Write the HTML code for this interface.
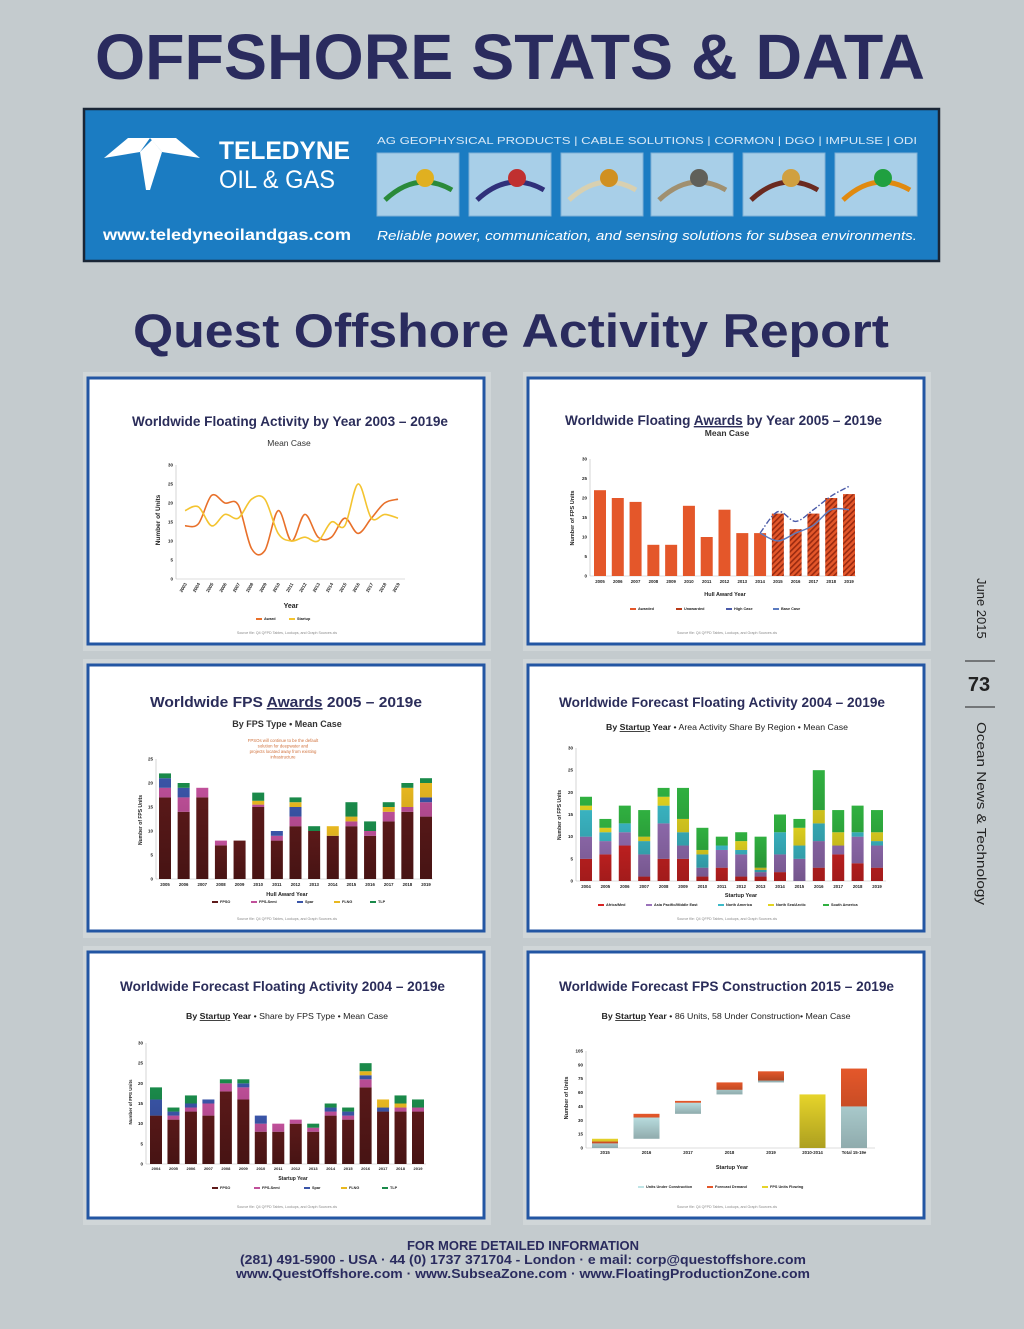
<!DOCTYPE html>
<html><head><meta charset="utf-8">
<style>
html,body{margin:0;padding:0;background:#c4cbce;}
svg{display:block;font-family:"Liberation Sans",sans-serif;}
</style></head>
<body>
<svg id="page" width="1024" height="1329" viewBox="0 0 1024 1329" xmlns="http://www.w3.org/2000/svg">
<defs>
<pattern id="hatch" patternUnits="userSpaceOnUse" width="4" height="4" patternTransform="rotate(45)">
<rect width="4" height="4" fill="#e4572a"/><rect width="1.6" height="4" fill="#9a2a10"/>
</pattern>
<linearGradient id="barShade" x1="0" y1="0" x2="0" y2="1"><stop offset="0" stop-color="#000" stop-opacity="0"/><stop offset="1" stop-color="#000" stop-opacity="0.25"/></linearGradient>
</defs>
<rect x="0" y="0" width="1024" height="1329" fill="#c4cbce"/>
<text x="510" y="79" text-anchor="middle" font-size="64" font-weight="bold" fill="#2a2b5e" textLength="830" lengthAdjust="spacingAndGlyphs">OFFSHORE STATS &amp; DATA</text>

<g>
<rect x="84" y="109" width="855" height="152" fill="#1b7cc2" stroke="#1a2636" stroke-width="2.5"/>
<g fill="#fff">
<polygon points="104,158 128,138 150,138 140,152"/>
<polygon points="150,138 176,138 200,158 162,152"/>
<polygon points="140,152 152,140 162,152 150,190 146,190"/>
</g>
<text x="219" y="159" font-size="25" font-weight="bold" fill="#fff" textLength="131" lengthAdjust="spacingAndGlyphs">TELEDYNE</text>
<text x="219" y="188" font-size="25" fill="#fff" textLength="116" lengthAdjust="spacingAndGlyphs">OIL &amp; GAS</text>
<text x="103" y="240" font-size="16" font-weight="bold" fill="#fff" textLength="248" lengthAdjust="spacingAndGlyphs">www.teledyneoilandgas.com</text>
<text x="377" y="144" font-size="10" fill="#d8e8f6" textLength="540" lengthAdjust="spacingAndGlyphs">AG GEOPHYSICAL PRODUCTS   |   CABLE SOLUTIONS   |   CORMON   |   DGO   |   IMPULSE   |   ODI</text>
<g id="prodthumbs"></g>
<text x="377" y="240" font-size="13" font-style="italic" fill="#fff" textLength="540" lengthAdjust="spacingAndGlyphs">Reliable power, communication, and sensing solutions for subsea environments.</text>
</g>

<text x="511" y="347" text-anchor="middle" font-size="47" font-weight="bold" fill="#2a2b5e" textLength="756" lengthAdjust="spacingAndGlyphs">Quest Offshore Activity Report</text>

<g>
<text transform="translate(977,578) rotate(90)" font-size="13" fill="#222">June 2015</text>
<line x1="965" y1="661" x2="995" y2="661" stroke="#222" stroke-width="1"/>
<text x="979" y="691" text-anchor="middle" font-size="20" font-weight="bold" fill="#222">73</text>
<line x1="965" y1="707" x2="995" y2="707" stroke="#222" stroke-width="1"/>
<text transform="translate(977,722) rotate(90)" font-size="13" fill="#222" textLength="183" lengthAdjust="spacingAndGlyphs">Ocean News &amp; Technology</text>
</g>

<g id="charts"></g>

<g font-weight="bold" fill="#2a2b5e" font-size="13" text-anchor="middle">
<text x="523" y="1250">FOR MORE DETAILED INFORMATION</text>
<text x="523" y="1264" textLength="566" lengthAdjust="spacingAndGlyphs">(281) 491-5900 - USA  ·  44 (0) 1737 371704 - London  ·  e mail: corp@questoffshore.com</text>
<text x="523" y="1278" textLength="574" lengthAdjust="spacingAndGlyphs">www.QuestOffshore.com  ·  www.SubseaZone.com  ·  www.FloatingProductionZone.com</text>
</g>
</svg>

<script>
// ---------- chart data ----------
const c1Years = ['2003','2004','2005','2006','2007','2008','2009','2010','2011','2012','2013','2014','2015','2016','2017','2018','2019'];
const c1Award = [14,14.5,22,20,19.5,8,7.5,18,10,17,11,11,16,12,16,20,21];
const c1Startup = [18,19,14,17,16,21,21,12,10,11,10,15,14,25,16,17,16];
const c1Ticks = [0,5,10,15,20,25,30];

const c2Years = ['2005','2006','2007','2008','2009','2010','2011','2012','2013','2014','2015','2016','2017','2018','2019'];
const c2Awards = [22,20,19,8,8,18,10,17,11,11,16,12,16,20,21];
const c2Unawarded = [false,false,false,false,false,false,false,false,false,false,true,true,true,true,true];
const c2High = [null,null,null,null,null,null,null,null,null,11,16.5,14,17,20.5,23];
const c2Base = [null,null,null,null,null,null,null,null,null,11,9,11,13,17,17];
const c2Ticks = [0,5,10,15,20,25,30];

const c3Years = ['2005','2006','2007','2008','2009','2010','2011','2012','2013','2014','2015','2016','2017','2018','2019'];
const c3FPSO = [17,14,17,7,8,15,8,11,10,9,11,9,12,14,13];
const c3Semi = [2,3,2,1,0,0.5,1,2,0,0,1,1,2,1,3];
const c3Spar = [2,2,0,0,0,0,1,2,0,0,0,0,0,0,1];
const c3FLNG = [0,0,0,0,0,0.8,0,1,0,2,1,0,1,4,3];
const c3TLP = [1,1,0,0,0,1.7,0,1,1,0,3,2,1,1,1];
const c3Ticks = [0,5,10,15,20,25];

const c4Years = ['2004','2005','2006','2007','2008','2009','2010','2011','2012','2013','2014','2015','2016','2017','2018','2019'];
const c4Africa = [5,6,8,1,5,5,1,3,1,1,2,0,3,6,4,3];
const c4AsiaPac = [5,3,3,5,8,3,2,4,5,1,4,5,6,2,6,5];
const c4NorthAm = [6,2,2,3,4,3,3,1,1,0.5,5,3,4,0,1,1];
const c4NorthSea = [1,1,0,1,2,3,1,0,2,0.5,0,4,3,3,0,2];
const c4SouthAm = [2,2,4,6,2,7,5,2,2,7,4,2,9,5,6,5];
const c4Ticks = [0,5,10,15,20,25,30];

const c5Years = ['2004','2005','2006','2007','2008','2009','2010','2011','2012','2013','2014','2015','2016','2017','2018','2019'];
const c5FPSO = [12,11,13,12,18,16,8,8,10,8,12,11,19,13,13,13];
const c5Semi = [0,1,1,3,2,3,2,2,1,1,1,1,2,0,1,1];
const c5Spar = [4,1,1,1,0,1,2,0,0,0,1,1,1,1,0,0];
const c5FLNG = [0,0,0,0,0,0,0,0,0,0,0,0,1,2,1,0];
const c5TLP = [3,1,2,0,1,1,0,0,0,1,1,1,2,0,2,2];
const c5Ticks = [0,5,10,15,20,25,30];

const c6Cats = ['2015','2016','2017','2018','2019','2010-2014','Total 15-19e'];
const c6Base = [0,10,37,58,71,0,0];
const c6UnderConst = [5,23,12,5,2,0,45];
const c6Forecast = [2,4,2,8,10,0,41];
const c6Flowing = [3,0,0,0,0,58,0];
const c6Ticks = [0,15,30,45,60,75,90,105];

// ---------- helpers ----------
const NS = 'http://www.w3.org/2000/svg';
const root = document.getElementById('charts');
function mk(tag, attrs, parent, name, inter) {
  const e = document.createElementNS(NS, tag);
  for (const k in attrs) e.setAttribute(k, attrs[k]);
  
  
  parent.appendChild(e);
  return e;
}
function txt(parent, x, y, s, size, opts, name) {
  const a = Object.assign({x: x, y: y, 'font-size': size, fill: '#222', 'text-anchor': 'middle'}, opts || {});
  const t = mk('text', a, parent, name, false);
  t.textContent = s;
  return t;
}
function xAxis(first, last, n) { return i => first + i * (last - first) / (n - 1); }
function yAxis(y0, yTop, max) { return v => y0 - v * (y0 - yTop) / max; }

function panel(x, y, name) {
  const g = mk('g', {}, root, name, false);
  mk('rect', {x: x - 5, y: y - 6, width: 408, height: 279, fill: '#d0d6d8'}, g, 'panel-shadow', false);
  mk('rect', {x: x, y: y, width: 396, height: 266, fill: '#fff', stroke: '#2356a3', 'stroke-width': 3}, g, 'panel-frame', false);
  return g;
}
function title(g, x1, x2, y, s, size, name) {
  const t = txt(g, (x1 + x2) / 2, y, s, size, {'font-weight': 'bold', fill: '#2b2d5a', textLength: x2 - x1, lengthAdjust: 'spacingAndGlyphs'}, name);
  return t;
}
function yTicks(g, ticks, y, xLeft) {
  ticks.forEach(v => {
    txt(g, xLeft - 3, y(v) + 1.5, String(v), 4.5, {'font-weight': 'bold', 'text-anchor': 'end'}, 'y-tick-label');
  });
}
function axes(g, xL, xR, y0, yTop) {
  mk('line', {x1: xL, y1: yTop, x2: xL, y2: y0, stroke: '#bbb', 'stroke-width': 0.6}, g, 'y-axis-line', false);
  mk('line', {x1: xL, y1: y0, x2: xR, y2: y0, stroke: '#bbb', 'stroke-width': 0.6}, g, 'x-axis-line', false);
}
function source(g, cx, y) {
  txt(g, cx, y, 'Source file: Q4 QFPD Tables, Lookups, and Graph Sources.xls', 3.6, {fill: '#888'}, 'source-note');
}
function legend(g, items, y) {
  items.forEach(it => {
    mk('rect', {x: it.x, y: y - 2, width: 6, height: 2, fill: it.c}, g, 'legend-swatch', false);
    txt(g, it.x + 8, y, it.t, 3.8, {'font-weight': 'bold', 'text-anchor': 'start'}, 'legend-entry');
  });
}
function smoothPath(pts) {
  let d = 'M' + pts[0][0] + ',' + pts[0][1];
  for (let i = 0; i < pts.length - 1; i++) {
    const p0 = pts[Math.max(0, i - 1)], p1 = pts[i], p2 = pts[i + 1], p3 = pts[Math.min(pts.length - 1, i + 2)];
    const c1x = p1[0] + (p2[0] - p0[0]) / 6, c1y = p1[1] + (p2[1] - p0[1]) / 6;
    const c2x = p2[0] - (p3[0] - p1[0]) / 6, c2y = p2[1] - (p3[1] - p1[1]) / 6;
    d += ' C' + c1x + ',' + c1y + ' ' + c2x + ',' + c2y + ' ' + p2[0] + ',' + p2[1];
  }
  return d;
}
function stacked(g, xf, y, seriesList, colors, bw, names) {
  const n = seriesList[0].length;
  for (let i = 0; i < n; i++) {
    let cum = 0;
    seriesList.forEach((s, k) => {
      const v = s[i];
      if (v > 0) {
        mk('rect', {x: xf(i) - bw / 2, y: y(cum + v), width: bw, height: y(cum) - y(cum + v), fill: colors[k]}, g, 'bar-' + names[k] + '-' + i, false);
      }
      cum += v;
    });
    mk('rect', {x: xf(i) - bw / 2, y: y(cum), width: bw, height: y(0) - y(cum), fill: 'url(#barShade)'}, g, 'bar-shade', false);
  }
}

// ---------- product thumbnails ----------
(function () {
  const tg = document.getElementById('prodthumbs');
  const xs = [377, 469, 561, 651, 743, 835];
  const cols = [['#2a8a3a', '#e0b020'], ['#30307a', '#c03030'], ['#d8d0b0', '#d09020'], ['#a09070', '#60605a'], ['#6a2a20', '#d0a040'], ['#e08a10', '#20a040']];
  xs.forEach((x, i) => {
    mk('rect', {x: x, y: 153, width: 82, height: 63, fill: '#a8cfe8', stroke: '#7fb0d6', 'stroke-width': 1}, tg, 'product-photo', false);
    mk('path', {d: 'M' + (x + 8) + ',' + 200 + ' Q' + (x + 40) + ',170 ' + (x + 75) + ',190', stroke: cols[i][0], 'stroke-width': 5, fill: 'none'}, tg, 'product-cable', false);
    mk('circle', {cx: x + 48, cy: 178, r: 9, fill: cols[i][1]}, tg, 'product-connector', false);
  });
})();

// ---------- Chart 1 ----------
(function () {
  const g = panel(88, 378, 'chart-floating-activity-by-year');
  title(g, 132, 448, 426, 'Worldwide Floating Activity by Year 2003 – 2019e', 14, 'chart1-title');
  txt(g, 289, 446, 'Mean Case', 8.5, {fill: '#333'}, 'chart1-subtitle');
  const xf = xAxis(185, 398, c1Years.length), y = yAxis(579, 465, 30);
  axes(g, 176, 405, 579, 465);
  yTicks(g, c1Ticks, y, 176);
  c1Years.forEach((s, i) => {
    txt(g, 0, 0, s, 4.5, {'font-weight': 'bold', 'text-anchor': 'end', transform: 'translate(' + (xf(i) + 2) + ',584) rotate(-60)'}, 'x-tick-label');
  });
  txt(g, 162, 522, 'Number of Units', 6.5, {'font-weight': 'bold', transform: 'rotate(-90 160 522)'}, 'y-axis-title');
  txt(g, 291, 608, 'Year', 7, {'font-weight': 'bold'}, 'x-axis-title');
  mk('path', {d: smoothPath(c1Award.map((v, i) => [xf(i), y(v)])), stroke: '#e8702a', 'stroke-width': 1.6, fill: 'none'}, g, 'award-line', false);
  mk('path', {d: smoothPath(c1Startup.map((v, i) => [xf(i), y(v)])), stroke: '#f4c430', 'stroke-width': 1.6, fill: 'none'}, g, 'startup-line', false);
  legend(g, [{x: 256, t: 'Award', c: '#e8702a'}, {x: 289, t: 'Startup', c: '#f4c430'}], 620);
  source(g, 287, 634);
})();

// ---------- Chart 2 ----------
(function () {
  const g = panel(528, 378, 'chart-floating-awards-by-year');
  const t = title(g, 565, 882, 425, '', 14, 'chart2-title');
  t.innerHTML = 'Worldwide Floating <tspan text-decoration="underline">Awards</tspan> by Year 2005 – 2019e';
  txt(g, 727, 436, 'Mean Case', 8.5, {'font-weight': 'bold', fill: '#333'}, 'chart2-subtitle');
  const xf = xAxis(600, 849, c2Years.length), y = yAxis(576, 459, 30);
  axes(g, 590, 856, 576, 459);
  yTicks(g, c2Ticks, y, 590);
  const bw = 12;
  c2Awards.forEach((v, i) => {
    mk('rect', {x: xf(i) - bw / 2, y: y(v), width: bw, height: y(0) - y(v), fill: c2Unawarded[i] ? 'url(#hatch)' : '#e4572a'}, g, 'award-bar-' + c2Years[i], false);
    txt(g, xf(i), 583, c2Years[i], 4.3, {'font-weight': 'bold'}, 'x-tick-label');
  });
  const hp = [], bp = [];
  c2High.forEach((v, i) => { if (v !== null) hp.push([xf(i), y(v)]); });
  c2Base.forEach((v, i) => { if (v !== null) bp.push([xf(i), y(v)]); });
  mk('path', {d: smoothPath(hp), stroke: '#4a5aa8', 'stroke-width': 1.4, 'stroke-dasharray': '6,2,1.5,2', fill: 'none'}, g, 'high-case-line', false);
  mk('path', {d: smoothPath(bp), stroke: '#5b7bc0', 'stroke-width': 1.4, fill: 'none'}, g, 'base-case-line', false);
  txt(g, 574, 518, 'Number of FPS Units', 5.5, {'font-weight': 'bold', transform: 'rotate(-90 574 518)'}, 'y-axis-title');
  txt(g, 725, 596, 'Hull Award Year', 5.5, {'font-weight': 'bold'}, 'x-axis-title');
  legend(g, [{x: 630, t: 'Awarded', c: '#e4572a'}, {x: 676, t: 'Unawarded', c: '#b83a18'}, {x: 726, t: 'High Case', c: '#4a5aa8'}, {x: 773, t: 'Base Case', c: '#5b7bc0'}], 610);
  source(g, 727, 634);
})();

// ---------- Chart 3 ----------
(function () {
  const g = panel(88, 665, 'chart-fps-awards-by-type');
  const t = title(g, 150, 422, 707, '', 15, 'chart3-title');
  t.innerHTML = 'Worldwide FPS <tspan text-decoration="underline">Awards</tspan> 2005 – 2019e';
  txt(g, 287, 727, 'By FPS Type • Mean Case', 9, {'font-weight': 'bold', fill: '#333'}, 'chart3-subtitle');
  const note = ['FPSOs will continue to be the default', 'solution for deepwater and', 'projects located away from existing', 'infrastructure'];
  note.forEach((s, i) => txt(g, 283, 742 + i * 5.5, s, 4.3, {fill: '#d0703a'}, 'annotation-note'));
  const xf = xAxis(165, 426, c3Years.length), y = yAxis(879, 759, 25);
  axes(g, 156, 433, 879, 759);
  yTicks(g, c3Ticks, y, 156);
  stacked(g, xf, y, [c3FPSO, c3Semi, c3Spar, c3FLNG, c3TLP], ['#5e1a1a', '#c0509a', '#3a55a8', '#e8b820', '#1a8a4a'], 12, ['fpso', 'semi', 'spar', 'flng', 'tlp']);
  c3Years.forEach((s, i) => txt(g, xf(i), 886, s, 4.3, {'font-weight': 'bold'}, 'x-tick-label'));
  txt(g, 142, 820, 'Number of FPS Units', 5, {'font-weight': 'bold', transform: 'rotate(-90 142 820)'}, 'y-axis-title');
  txt(g, 287, 896, 'Hull Award Year', 5.5, {'font-weight': 'bold'}, 'x-axis-title');
  legend(g, [{x: 212, t: 'FPSO', c: '#5e1a1a'}, {x: 251, t: 'FPS-Semi', c: '#c0509a'}, {x: 297, t: 'Spar', c: '#3a55a8'}, {x: 334, t: 'FLNG', c: '#e8b820'}, {x: 370, t: 'TLP', c: '#1a8a4a'}], 903);
  source(g, 287, 920);
})();

// ---------- Chart 4 ----------
(function () {
  const g = panel(528, 665, 'chart-activity-by-region');
  title(g, 559, 885, 707, 'Worldwide Forecast Floating Activity 2004 – 2019e', 14, 'chart4-title');
  const st = txt(g, 727, 730, '', 8.5, {'font-weight': 'bold', fill: '#222', textLength: 242, lengthAdjust: 'spacingAndGlyphs'}, 'chart4-subtitle');
  st.innerHTML = 'By <tspan text-decoration="underline">Startup</tspan> Year <tspan font-weight="normal">• Area Activity Share By Region • Mean Case</tspan>';
  const xf = xAxis(586, 877, c4Years.length), y = yAxis(881, 748, 30);
  axes(g, 576, 886, 881, 748);
  yTicks(g, c4Ticks, y, 576);
  stacked(g, xf, y, [c4Africa, c4AsiaPac, c4NorthAm, c4NorthSea, c4SouthAm], ['#d82424', '#9a72ba', '#3cbac8', '#e2d420', '#30b040'], 12, ['africa', 'asiapac', 'northam', 'northsea', 'southam']);
  c4Years.forEach((s, i) => txt(g, xf(i), 888, s, 4.3, {'font-weight': 'bold'}, 'x-tick-label'));
  txt(g, 561, 815, 'Number of FPS Units', 5, {'font-weight': 'bold', transform: 'rotate(-90 561 815)'}, 'y-axis-title');
  txt(g, 741, 897, 'Startup Year', 5.5, {'font-weight': 'bold'}, 'x-axis-title');
  legend(g, [{x: 598, t: 'Africa/Med', c: '#d82424'}, {x: 646, t: 'Asia Pacific/Middle East', c: '#9a72ba'}, {x: 718, t: 'North America', c: '#3cbac8'}, {x: 768, t: 'North Sea/Arctic', c: '#e2d420'}, {x: 823, t: 'South America', c: '#30b040'}], 906);
  source(g, 727, 920);
})();

// ---------- Chart 5 ----------
(function () {
  const g = panel(88, 952, 'chart-activity-by-fps-type');
  title(g, 120, 445, 991, 'Worldwide Forecast Floating Activity 2004 – 2019e', 14, 'chart5-title');
  const st = txt(g, 287, 1019, '', 8.5, {'font-weight': 'bold', fill: '#222', textLength: 202, lengthAdjust: 'spacingAndGlyphs'}, 'chart5-subtitle');
  st.innerHTML = 'By <tspan text-decoration="underline">Startup</tspan> Year <tspan font-weight="normal">• Share by FPS Type • Mean Case</tspan>';
  const xf = xAxis(156, 418, c5Years.length), y = yAxis(1164, 1043, 30);
  axes(g, 146, 426, 1164, 1043);
  yTicks(g, c5Ticks, y, 146);
  stacked(g, xf, y, [c5FPSO, c5Semi, c5Spar, c5FLNG, c5TLP], ['#5e1a1a', '#c0509a', '#3a55a8', '#e8b820', '#1a8a4a'], 12, ['fpso', 'semi', 'spar', 'flng', 'tlp']);
  c5Years.forEach((s, i) => txt(g, xf(i), 1170, s, 4, {'font-weight': 'bold'}, 'x-tick-label'));
  txt(g, 132, 1102, 'Number of FPS Units', 4.5, {'font-weight': 'bold', transform: 'rotate(-90 132 1102)'}, 'y-axis-title');
  txt(g, 293, 1180, 'Startup Year', 5, {'font-weight': 'bold'}, 'x-axis-title');
  legend(g, [{x: 212, t: 'FPSO', c: '#5e1a1a'}, {x: 254, t: 'FPS-Semi', c: '#c0509a'}, {x: 304, t: 'Spar', c: '#3a55a8'}, {x: 341, t: 'FLNG', c: '#e8b820'}, {x: 382, t: 'TLP', c: '#1a8a4a'}], 1189);
  source(g, 287, 1208);
})();

// ---------- Chart 6 ----------
(function () {
  const g = panel(528, 952, 'chart-fps-construction');
  title(g, 559, 894, 991, 'Worldwide Forecast FPS Construction 2015 – 2019e', 14, 'chart6-title');
  const st = txt(g, 726, 1019, '', 8.5, {'font-weight': 'bold', fill: '#222', textLength: 249, lengthAdjust: 'spacingAndGlyphs'}, 'chart6-subtitle');
  st.innerHTML = 'By <tspan text-decoration="underline">Startup</tspan> Year <tspan font-weight="normal">• 86 Units, 58 Under Construction• Mean Case</tspan>';
  const xf = xAxis(605, 854, c6Cats.length), y = yAxis(1148, 1051, 105);
  axes(g, 586, 875, 1148, 1051);
  yTicks(g, c6Ticks, y, 586);
  const bw = 26;
  c6Cats.forEach((s, i) => {
    let cum = c6Base[i];
    [[c6UnderConst, '#bfe4e6', 'under-construction'], [c6Forecast, '#e4572a', 'forecast-demand'], [c6Flowing, '#e6d42a', 'units-flowing']].forEach(([arr, c, nm]) => {
      const v = arr[i];
      if (v > 0) mk('rect', {x: xf(i) - bw / 2, y: y(cum + v), width: bw, height: y(cum) - y(cum + v), fill: c}, g, 'bar-' + nm + '-' + i, false);
      cum += v;
    });
    mk('rect', {x: xf(i) - bw / 2, y: y(cum), width: bw, height: y(c6Base[i]) - y(cum), fill: 'url(#barShade)'}, g, 'bar-shade', false);
    txt(g, xf(i), 1154, s, 4.3, {'font-weight': 'bold'}, 'x-tick-label');
  });
  txt(g, 568, 1098, 'Number of Units', 5.5, {'font-weight': 'bold', transform: 'rotate(-90 568 1098)'}, 'y-axis-title');
  txt(g, 732, 1169, 'Startup Year', 5.5, {'font-weight': 'bold'}, 'x-axis-title');
  legend(g, [{x: 638, t: 'Units Under Construction', c: '#bfe4e6'}, {x: 707, t: 'Forecast Demand', c: '#e4572a'}, {x: 762, t: 'FPS Units Flowing', c: '#e6d42a'}], 1188);
  source(g, 727, 1208);
})();
</script>
</body></html>
